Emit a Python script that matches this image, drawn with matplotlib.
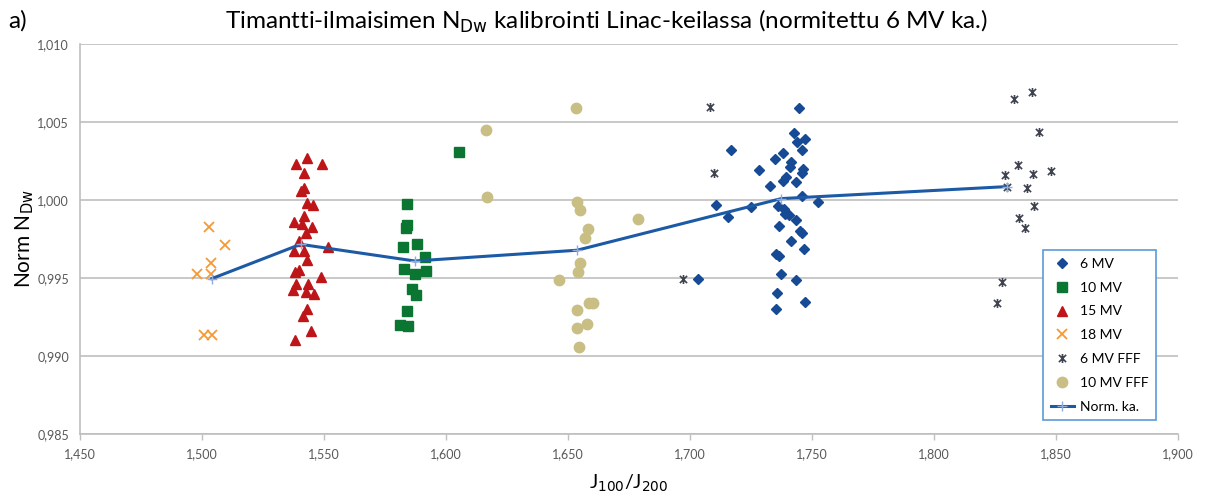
import matplotlib
matplotlib.use('Agg')
import matplotlib.pyplot as plt
from matplotlib.path import Path
from matplotlib.ticker import FuncFormatter, MultipleLocator

# ---------------- data ----------------
mv6_x = [1.7033, 1.7108, 1.7447, 1.7426, 1.7438, 1.7470, 1.7459, 1.7166, 1.7381, 1.7347,
         1.7415, 1.7408, 1.7282, 1.7462, 1.7460, 1.7394, 1.7381, 1.7433, 1.7327, 1.7457,
         1.7525, 1.7361, 1.7252, 1.7384, 1.7388, 1.7406, 1.7156, 1.7434, 1.7365, 1.7450,
         1.7460, 1.7415, 1.7467, 1.7354, 1.7365, 1.7373, 1.7433, 1.7358, 1.7470, 1.7354]
mv6_y = [0.99496, 0.99966, 1.00592, 1.00432, 1.00372, 1.00389, 1.00319, 1.00321, 1.00304, 1.00261,
         1.00244, 1.00214, 1.00192, 1.00201, 1.00171, 1.00150, 1.00122, 1.00115, 1.00090, 1.00026,
         0.99987, 0.99962, 0.99958, 0.99945, 0.99908, 0.99902, 0.99891, 0.99872, 0.99833, 0.99801,
         0.99787, 0.99737, 0.99684, 0.99652, 0.99641, 0.99524, 0.99487, 0.99402, 0.99346, 0.99299]

mv10_x = [1.5841, 1.5841, 1.5838, 1.5822, 1.5881, 1.5913, 1.5828, 1.5920, 1.5874, 1.5859,
          1.5879, 1.5841, 1.5811, 1.5845, 1.6053]
mv10_y = [0.99977, 0.99838, 0.99821, 0.99701, 0.99720, 0.99635, 0.99556, 0.99545, 0.99524, 0.99428,
          0.99391, 0.99288, 0.99197, 0.99192, 1.00308]

mv15_x = [1.5385, 1.5430, 1.5490, 1.5420, 1.5420, 1.5404, 1.5429, 1.5456, 1.5419, 1.5378,
          1.5408, 1.5452, 1.5425, 1.5397, 1.5515, 1.5378, 1.5419, 1.5431, 1.5381, 1.5397,
          1.5486, 1.5384, 1.5435, 1.5371, 1.5425, 1.5461, 1.5429, 1.5412, 1.5448, 1.5381]
mv15_y = [1.00230, 1.00270, 1.00230, 1.00170, 1.00080, 1.00058, 0.99983, 0.99968, 0.99897, 0.99859,
          0.99844, 0.99827, 0.99791, 0.99737, 0.99701, 0.99673, 0.99673, 0.99615, 0.99538, 0.99551,
          0.99509, 0.99460, 0.99460, 0.99423, 0.99410, 0.99400, 0.99299, 0.99256, 0.99158, 0.99103]

mv18_x = [1.5030, 1.5094, 1.5037, 1.4981, 1.5035, 1.5008, 1.5042]
mv18_y = [0.99829, 0.99710, 0.99594, 0.99524, 0.99528, 0.99133, 0.99137]

fff6_x = [1.7081, 1.7097, 1.6972, 1.8328, 1.8400, 1.8430, 1.8344, 1.8290, 1.8405, 1.8479,
          1.8300, 1.8383, 1.8410, 1.8347, 1.8374, 1.8280, 1.8258]
fff6_y = [1.00599, 1.00176, 0.99492, 1.00650, 1.00692, 1.00436, 1.00222, 1.00160, 1.00169, 1.00186,
          1.00086, 1.00079, 0.99962, 0.99883, 0.99823, 0.99477, 0.99342]

fff10_x = [1.6163, 1.6167, 1.6531, 1.6535, 1.6551, 1.6583, 1.6570, 1.6785, 1.6551, 1.6541,
           1.6465, 1.6585, 1.6603, 1.6535, 1.6535, 1.6578, 1.6545]
fff10_y = [1.00449, 1.00017, 1.00592, 0.99987, 0.99938, 0.99812, 0.99755, 0.99876, 0.99599, 0.99538,
           0.99487, 0.99342, 0.99340, 0.99295, 0.99180, 0.99208, 0.99058]

norm_x = [1.5040, 1.5404, 1.5872, 1.6537, 1.7374, 1.8300]
norm_y = [0.99496, 0.99716, 0.99609, 0.99678, 1.00009, 1.00086]

labels = ['6 MV', '10 MV', '15 MV', '18 MV', '6 MV FFF', '10 MV FFF', 'Norm. ka.']

# ---------------- figure ----------------
FONT = 'Lato'
plt.rcParams['font.family'] = [FONT, 'DejaVu Sans']

W, H = 1207, 501
fig = plt.figure(figsize=(W / 100, H / 100), dpi=100)
ax = fig.add_axes([80 / W, 1 - 434 / H, 1098 / W, 390 / H])

star = Path([(-1, -1), (1, 1), (-1, 1), (1, -1), (0, -1.25), (0, 1.25)],
            [Path.MOVETO, Path.LINETO] * 3)

ax.plot(mv6_x, mv6_y, ls='none', marker='D', ms=5.5, color='#164A94', label=labels[0], zorder=3)
ax.plot(mv10_x, mv10_y, ls='none', marker='s', ms=7, color='#0B7532', label=labels[1], zorder=3)
ax.plot(mv15_x, mv15_y, ls='none', marker='^', ms=7.5, color='#BE1519', label=labels[2], zorder=3)
ax.plot(mv18_x, mv18_y, ls='none', marker='x', ms=6.5, mew=1.3, color='#F39A36', label=labels[3], zorder=3)
ax.plot(fff6_x, fff6_y, ls='none', marker=star, ms=6.5, mew=1.2, color='#3F4450',
        markerfacecolor='none', label=labels[4], zorder=3)
ax.plot(fff10_x, fff10_y, ls='none', marker='o', ms=7.5, color='#C9BF85', label=labels[5], zorder=3)
ax.plot(norm_x, norm_y, ls='-', lw=2.2, color='#1C5AA6', marker='+', ms=7, mew=1,
        markeredgecolor='#8FAADC', label=labels[6], zorder=4)

ax.set_xlim(1.45, 1.90)
ax.set_ylim(0.985, 1.010)
ax.xaxis.set_major_locator(MultipleLocator(0.05))
ax.yaxis.set_major_locator(MultipleLocator(0.005))
fmt = FuncFormatter(lambda v, p: f'{v:.3f}'.replace('.', ','))
ax.xaxis.set_major_formatter(fmt)
ax.yaxis.set_major_formatter(fmt)

ax.yaxis.grid(True, color='#BFBFBF', lw=1.2)
ax.set_axisbelow(True)
for s in ['top', 'right']:
    ax.spines[s].set_visible(False)
for s in ['left', 'bottom']:
    ax.spines[s].set_color('#BFBFBF')
    ax.spines[s].set_linewidth(1.2)
ax.tick_params(axis='y', length=0, pad=8, labelsize=9, labelcolor='#595959')
ax.tick_params(axis='x', length=4, width=1, color='#BFBFBF', direction='out', pad=6,
               labelsize=9, labelcolor='#595959')

ax.set_xlabel('J$_{100}$/J$_{200}$', fontsize=14, labelpad=9)
ax.set_ylabel('Norm N$_{\\mathrm{Dw}}$', fontsize=15, labelpad=1)

fig.text(607 / W, 1 - 21 / H, 'Timantti-ilmaisimen N$_{\\mathrm{Dw}}$ kalibrointi Linac-keilassa (normitettu 6 MV ka.)',
         ha='center', va='center', fontsize=17.5)
fig.text(8 / W, 1 - 21 / H, 'a)', ha='left', va='center', fontsize=17.5)

leg = ax.legend(loc='lower left', bbox_to_anchor=(0.877, 0.035), frameon=True, fancybox=False,
                fontsize=10, labelspacing=0.85, handlelength=1.7, handletextpad=0.4,
                borderpad=0.55, borderaxespad=0, framealpha=1)
leg.get_frame().set_edgecolor('#5B9BD5')
leg.get_frame().set_linewidth(1.2)

fig.savefig('out.png', dpi=100)
